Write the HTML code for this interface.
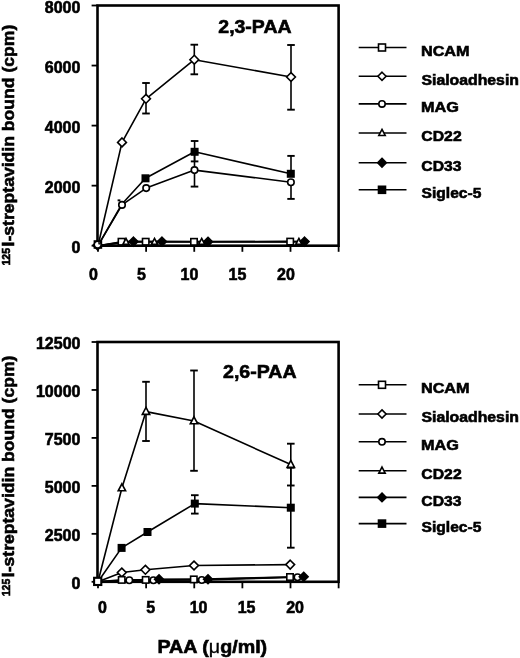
<!DOCTYPE html>
<html><head><meta charset="utf-8"><style>
html,body{margin:0;padding:0;background:#fff;width:520px;height:658px;overflow:hidden}
svg{display:block;will-change:transform}
text{font-family:"Liberation Sans",sans-serif;font-weight:bold;fill:#000;stroke:#000;stroke-width:0.6px}
</style></head><body>
<svg width="520" height="658" viewBox="0 0 520 658">
<rect x="97.5" y="5.5" width="241.10000000000002" height="240.2" fill="none" stroke="#000" stroke-width="2.6"/>
<line x1="91.6" y1="5.5" x2="97.5" y2="5.5" stroke="#000" stroke-width="1.8"/>
<line x1="91.6" y1="65.55" x2="97.5" y2="65.55" stroke="#000" stroke-width="1.8"/>
<line x1="91.6" y1="125.6" x2="97.5" y2="125.6" stroke="#000" stroke-width="1.8"/>
<line x1="91.6" y1="185.65" x2="97.5" y2="185.65" stroke="#000" stroke-width="1.8"/>
<line x1="91.6" y1="245.7" x2="97.5" y2="245.7" stroke="#000" stroke-width="1.8"/>
<line x1="98.00" y1="245.7" x2="98.00" y2="251.8" stroke="#000" stroke-width="1.8"/>
<line x1="146.12" y1="245.7" x2="146.12" y2="251.8" stroke="#000" stroke-width="1.8"/>
<line x1="194.25" y1="245.7" x2="194.25" y2="251.8" stroke="#000" stroke-width="1.8"/>
<line x1="242.38" y1="245.7" x2="242.38" y2="251.8" stroke="#000" stroke-width="1.8"/>
<line x1="290.50" y1="245.7" x2="290.50" y2="251.8" stroke="#000" stroke-width="1.8"/>
<line x1="338.62" y1="245.7" x2="338.62" y2="251.8" stroke="#000" stroke-width="1.8"/>
<text x="44.84" y="12.50" font-size="16" textLength="35.59" lengthAdjust="spacingAndGlyphs">8000</text>
<text x="44.84" y="72.55" font-size="16" textLength="35.59" lengthAdjust="spacingAndGlyphs">6000</text>
<text x="44.84" y="132.60" font-size="16" textLength="35.59" lengthAdjust="spacingAndGlyphs">4000</text>
<text x="44.84" y="192.65" font-size="16" textLength="35.59" lengthAdjust="spacingAndGlyphs">2000</text>
<text x="71.56" y="252.70" font-size="16" textLength="8.90" lengthAdjust="spacingAndGlyphs">0</text>
<text x="88.96" y="279.60" font-size="16" textLength="8.90" lengthAdjust="spacingAndGlyphs">0</text>
<text x="137.05" y="279.60" font-size="16" textLength="8.90" lengthAdjust="spacingAndGlyphs">5</text>
<text x="180.57" y="279.60" font-size="16" textLength="17.80" lengthAdjust="spacingAndGlyphs">10</text>
<text x="228.58" y="279.60" font-size="16" textLength="17.80" lengthAdjust="spacingAndGlyphs">15</text>
<text x="277.06" y="279.60" font-size="16" textLength="17.80" lengthAdjust="spacingAndGlyphs">20</text>
<text x="218.32" y="32.50" font-size="17.5" textLength="73.18" lengthAdjust="spacingAndGlyphs">2,3-PAA</text>
<line x1="146.00" y1="83.00" x2="146.00" y2="113.50" stroke="#000" stroke-width="1.6"/>
<line x1="142.20" y1="83.00" x2="149.80" y2="83.00" stroke="#000" stroke-width="1.9"/>
<line x1="142.20" y1="113.50" x2="149.80" y2="113.50" stroke="#000" stroke-width="1.9"/>
<line x1="194.30" y1="44.70" x2="194.30" y2="74.30" stroke="#000" stroke-width="1.6"/>
<line x1="190.50" y1="44.70" x2="198.10" y2="44.70" stroke="#000" stroke-width="1.9"/>
<line x1="190.50" y1="74.30" x2="198.10" y2="74.30" stroke="#000" stroke-width="1.9"/>
<line x1="291.00" y1="45.00" x2="291.00" y2="109.70" stroke="#000" stroke-width="1.6"/>
<line x1="287.20" y1="45.00" x2="294.80" y2="45.00" stroke="#000" stroke-width="1.9"/>
<line x1="287.20" y1="109.70" x2="294.80" y2="109.70" stroke="#000" stroke-width="1.9"/>
<line x1="194.60" y1="141.00" x2="194.60" y2="161.40" stroke="#000" stroke-width="1.6"/>
<line x1="190.80" y1="141.00" x2="198.40" y2="141.00" stroke="#000" stroke-width="1.9"/>
<line x1="190.80" y1="161.40" x2="198.40" y2="161.40" stroke="#000" stroke-width="1.9"/>
<line x1="194.50" y1="153.50" x2="194.50" y2="186.60" stroke="#000" stroke-width="1.6"/>
<line x1="190.70" y1="153.50" x2="198.30" y2="153.50" stroke="#000" stroke-width="1.9"/>
<line x1="190.70" y1="186.60" x2="198.30" y2="186.60" stroke="#000" stroke-width="1.9"/>
<line x1="291.00" y1="173.90" x2="291.00" y2="155.90" stroke="#000" stroke-width="1.6"/>
<line x1="287.30" y1="155.90" x2="294.70" y2="155.90" stroke="#000" stroke-width="1.9"/>
<line x1="291.00" y1="182.20" x2="291.00" y2="198.90" stroke="#000" stroke-width="1.6"/>
<line x1="287.30" y1="198.90" x2="294.70" y2="198.90" stroke="#000" stroke-width="1.9"/>
<rect x="117.6" y="199.4" width="2.8" height="1.9" fill="#000"/>
<polyline points="98.00,245.70 121.50,241.70 145.70,241.70 194.00,241.80 290.20,241.60" fill="none" stroke="#000" stroke-width="1.6" stroke-linejoin="round"/>
<polyline points="98.00,245.70 126.00,241.60 154.50,241.60 201.70,241.60 298.90,241.60" fill="none" stroke="#000" stroke-width="1.6" stroke-linejoin="round"/>
<polyline points="98.00,245.70 133.50,241.60 162.00,241.60 208.00,241.80 304.60,241.60" fill="none" stroke="#000" stroke-width="1.6" stroke-linejoin="round"/>
<polyline points="98.00,245.70 122.00,204.90 146.20,188.10 194.50,170.10 290.90,182.20" fill="none" stroke="#000" stroke-width="1.6" stroke-linejoin="round"/>
<polyline points="98.00,245.70 122.00,204.00 145.50,178.30 194.60,151.80 290.80,173.80" fill="none" stroke="#000" stroke-width="1.6" stroke-linejoin="round"/>
<polyline points="98.00,245.70 122.00,142.40 146.00,98.80 194.30,59.70 291.00,77.00" fill="none" stroke="#000" stroke-width="1.6" stroke-linejoin="round"/>
<rect x="118.30" y="238.50" width="6.4" height="6.4" fill="#fff" stroke="#000" stroke-width="1.6"/>
<rect x="142.50" y="238.50" width="6.4" height="6.4" fill="#fff" stroke="#000" stroke-width="1.6"/>
<rect x="190.80" y="238.60" width="6.4" height="6.4" fill="#fff" stroke="#000" stroke-width="1.6"/>
<rect x="287.00" y="238.40" width="6.4" height="6.4" fill="#fff" stroke="#000" stroke-width="1.6"/>
<path d="M126.00 238.37L129.10 244.26L122.90 244.26Z" fill="#fff" stroke="#000" stroke-width="1.6" stroke-linejoin="miter"/>
<path d="M154.50 238.37L157.60 244.26L151.40 244.26Z" fill="#fff" stroke="#000" stroke-width="1.6" stroke-linejoin="miter"/>
<path d="M201.70 238.37L204.80 244.26L198.60 244.26Z" fill="#fff" stroke="#000" stroke-width="1.6" stroke-linejoin="miter"/>
<path d="M298.90 238.37L302.00 244.26L295.80 244.26Z" fill="#fff" stroke="#000" stroke-width="1.6" stroke-linejoin="miter"/>
<path d="M133.50 237.20L137.90 241.60L133.50 246.00L129.10 241.60Z" fill="#000" stroke="#000" stroke-width="1.6" stroke-linejoin="miter"/>
<path d="M162.00 237.20L166.40 241.60L162.00 246.00L157.60 241.60Z" fill="#000" stroke="#000" stroke-width="1.6" stroke-linejoin="miter"/>
<path d="M208.00 237.40L212.40 241.80L208.00 246.20L203.60 241.80Z" fill="#000" stroke="#000" stroke-width="1.6" stroke-linejoin="miter"/>
<path d="M304.60 237.20L309.00 241.60L304.60 246.00L300.20 241.60Z" fill="#000" stroke="#000" stroke-width="1.6" stroke-linejoin="miter"/>
<rect x="142.30" y="175.10" width="6.4" height="6.4" fill="#000" stroke="#000" stroke-width="1.6"/>
<rect x="191.40" y="148.60" width="6.4" height="6.4" fill="#000" stroke="#000" stroke-width="1.6"/>
<rect x="287.60" y="170.60" width="6.4" height="6.4" fill="#000" stroke="#000" stroke-width="1.6"/>
<circle cx="122.00" cy="204.90" r="3.25" fill="#fff" stroke="#000" stroke-width="1.6"/>
<circle cx="146.20" cy="188.10" r="3.25" fill="#fff" stroke="#000" stroke-width="1.6"/>
<circle cx="194.50" cy="170.10" r="3.25" fill="#fff" stroke="#000" stroke-width="1.6"/>
<circle cx="290.90" cy="182.20" r="3.25" fill="#fff" stroke="#000" stroke-width="1.6"/>
<path d="M122.00 138.00L126.40 142.40L122.00 146.80L117.60 142.40Z" fill="#fff" stroke="#000" stroke-width="1.6" stroke-linejoin="miter"/>
<path d="M146.00 94.40L150.40 98.80L146.00 103.20L141.60 98.80Z" fill="#fff" stroke="#000" stroke-width="1.6" stroke-linejoin="miter"/>
<path d="M194.30 55.30L198.70 59.70L194.30 64.10L189.90 59.70Z" fill="#fff" stroke="#000" stroke-width="1.6" stroke-linejoin="miter"/>
<path d="M291.00 72.60L295.40 77.00L291.00 81.40L286.60 77.00Z" fill="#fff" stroke="#000" stroke-width="1.6" stroke-linejoin="miter"/>
<path d="M97.60 240.60L102.20 245.20L97.60 249.80L93.00 245.20Z" fill="#000" stroke="#000" stroke-width="1.6" stroke-linejoin="miter"/>
<rect x="93.6" y="240.2" width="8.6" height="8.6" fill="#000"/>
<circle cx="97.7" cy="244.6" r="2.6" fill="#fff"/>
<path d="M97.9 242.1 A2.6 2.6 0 0 1 100.3 244.6 L98.6 244.6 Z" fill="#000"/>
<line x1="358.7" y1="47.5" x2="406.5" y2="47.5" stroke="#000" stroke-width="1.6"/>
<rect x="378.50" y="44.00" width="7.0" height="7.0" fill="#fff" stroke="#000" stroke-width="1.6"/>
<text x="420.95" y="55.70" font-size="15" textLength="48.68" lengthAdjust="spacingAndGlyphs">NCAM</text>
<line x1="358.7" y1="76.3" x2="406.5" y2="76.3" stroke="#000" stroke-width="1.6"/>
<path d="M382.00 72.20L386.10 76.30L382.00 80.40L377.90 76.30Z" fill="#fff" stroke="#000" stroke-width="1.6" stroke-linejoin="miter"/>
<text x="421.53" y="84.50" font-size="15" textLength="97.40" lengthAdjust="spacingAndGlyphs">Sialoadhesin</text>
<line x1="358.7" y1="103.9" x2="406.5" y2="103.9" stroke="#000" stroke-width="1.6"/>
<circle cx="382.00" cy="103.90" r="3.2" fill="#fff" stroke="#000" stroke-width="1.6"/>
<text x="420.94" y="112.10" font-size="15" textLength="37.88" lengthAdjust="spacingAndGlyphs">MAG</text>
<line x1="358.7" y1="133" x2="406.5" y2="133" stroke="#000" stroke-width="1.6"/>
<path d="M382.00 129.35L385.20 135.43L378.80 135.43Z" fill="#fff" stroke="#000" stroke-width="1.6" stroke-linejoin="miter"/>
<text x="421.37" y="141.20" font-size="15" textLength="40.29" lengthAdjust="spacingAndGlyphs">CD22</text>
<line x1="358.7" y1="162.7" x2="406.5" y2="162.7" stroke="#000" stroke-width="1.6"/>
<path d="M382.00 158.40L386.30 162.70L382.00 167.00L377.70 162.70Z" fill="#000" stroke="#000" stroke-width="1.6" stroke-linejoin="miter"/>
<text x="421.37" y="170.90" font-size="15" textLength="40.21" lengthAdjust="spacingAndGlyphs">CD33</text>
<line x1="358.7" y1="189.8" x2="406.5" y2="189.8" stroke="#000" stroke-width="1.6"/>
<rect x="378.50" y="186.30" width="7.0" height="7.0" fill="#000" stroke="#000" stroke-width="1.6"/>
<text x="421.53" y="198.00" font-size="15" textLength="59.86" lengthAdjust="spacingAndGlyphs">Siglec-5</text>
<g transform="translate(0,0)">
<g transform="rotate(-90)"><text x="-265.48" y="10.30" font-size="10.8" textLength="17.48" lengthAdjust="spacingAndGlyphs">125</text></g>
<g transform="rotate(-90)"><text x="-246.44" y="14.20" font-size="17" textLength="221.75" lengthAdjust="spacingAndGlyphs">I-streptavidin bound (cpm)</text></g>
</g>
<rect x="97.5" y="342" width="241.10000000000002" height="239.79999999999995" fill="none" stroke="#000" stroke-width="2.6"/>
<line x1="91.6" y1="342" x2="97.5" y2="342" stroke="#000" stroke-width="1.8"/>
<line x1="91.6" y1="389.96" x2="97.5" y2="389.96" stroke="#000" stroke-width="1.8"/>
<line x1="91.6" y1="437.92" x2="97.5" y2="437.92" stroke="#000" stroke-width="1.8"/>
<line x1="91.6" y1="485.88" x2="97.5" y2="485.88" stroke="#000" stroke-width="1.8"/>
<line x1="91.6" y1="533.84" x2="97.5" y2="533.84" stroke="#000" stroke-width="1.8"/>
<line x1="91.6" y1="581.8" x2="97.5" y2="581.8" stroke="#000" stroke-width="1.8"/>
<line x1="98.00" y1="581.8" x2="98.00" y2="588.3" stroke="#000" stroke-width="1.8"/>
<line x1="146.12" y1="581.8" x2="146.12" y2="588.3" stroke="#000" stroke-width="1.8"/>
<line x1="194.25" y1="581.8" x2="194.25" y2="588.3" stroke="#000" stroke-width="1.8"/>
<line x1="242.38" y1="581.8" x2="242.38" y2="588.3" stroke="#000" stroke-width="1.8"/>
<line x1="290.50" y1="581.8" x2="290.50" y2="588.3" stroke="#000" stroke-width="1.8"/>
<line x1="338.62" y1="581.8" x2="338.62" y2="588.3" stroke="#000" stroke-width="1.8"/>
<text x="35.96" y="349.00" font-size="16" textLength="44.49" lengthAdjust="spacingAndGlyphs">12500</text>
<text x="35.96" y="396.96" font-size="16" textLength="44.49" lengthAdjust="spacingAndGlyphs">10000</text>
<text x="44.84" y="444.92" font-size="16" textLength="35.59" lengthAdjust="spacingAndGlyphs">7500</text>
<text x="44.84" y="492.88" font-size="16" textLength="35.59" lengthAdjust="spacingAndGlyphs">5000</text>
<text x="44.84" y="540.84" font-size="16" textLength="35.59" lengthAdjust="spacingAndGlyphs">2500</text>
<text x="71.56" y="588.80" font-size="16" textLength="8.90" lengthAdjust="spacingAndGlyphs">0</text>
<text x="98.06" y="612.50" font-size="16" textLength="8.90" lengthAdjust="spacingAndGlyphs">0</text>
<text x="146.15" y="612.50" font-size="16" textLength="8.90" lengthAdjust="spacingAndGlyphs">5</text>
<text x="189.67" y="612.50" font-size="16" textLength="17.80" lengthAdjust="spacingAndGlyphs">10</text>
<text x="237.68" y="612.50" font-size="16" textLength="17.80" lengthAdjust="spacingAndGlyphs">15</text>
<text x="286.16" y="612.50" font-size="16" textLength="17.80" lengthAdjust="spacingAndGlyphs">20</text>
<text x="223.02" y="378.40" font-size="17.5" textLength="73.48" lengthAdjust="spacingAndGlyphs">2,6-PAA</text>
<line x1="146.00" y1="381.80" x2="146.00" y2="441.00" stroke="#000" stroke-width="1.6"/>
<line x1="142.20" y1="381.80" x2="149.80" y2="381.80" stroke="#000" stroke-width="1.9"/>
<line x1="142.20" y1="441.00" x2="149.80" y2="441.00" stroke="#000" stroke-width="1.9"/>
<line x1="194.00" y1="370.50" x2="194.00" y2="470.80" stroke="#000" stroke-width="1.6"/>
<line x1="190.20" y1="370.50" x2="197.80" y2="370.50" stroke="#000" stroke-width="1.9"/>
<line x1="190.20" y1="470.80" x2="197.80" y2="470.80" stroke="#000" stroke-width="1.9"/>
<line x1="290.80" y1="443.70" x2="290.80" y2="485.50" stroke="#000" stroke-width="1.6"/>
<line x1="287.00" y1="443.70" x2="294.60" y2="443.70" stroke="#000" stroke-width="1.9"/>
<line x1="287.00" y1="485.50" x2="294.60" y2="485.50" stroke="#000" stroke-width="1.9"/>
<line x1="194.80" y1="495.20" x2="194.80" y2="513.60" stroke="#000" stroke-width="1.6"/>
<line x1="191.00" y1="495.20" x2="198.60" y2="495.20" stroke="#000" stroke-width="1.9"/>
<line x1="191.00" y1="513.60" x2="198.60" y2="513.60" stroke="#000" stroke-width="1.9"/>
<line x1="290.80" y1="467.70" x2="290.80" y2="547.70" stroke="#000" stroke-width="1.6"/>
<line x1="287.00" y1="467.70" x2="294.60" y2="467.70" stroke="#000" stroke-width="1.9"/>
<line x1="287.00" y1="547.70" x2="294.60" y2="547.70" stroke="#000" stroke-width="1.9"/>
<polyline points="98.00,581.80 121.70,579.90 145.70,579.90 193.80,579.40 290.00,577.00" fill="none" stroke="#000" stroke-width="1.6" stroke-linejoin="round"/>
<polyline points="98.00,581.80 134.00,581.00 159.00,579.30 208.00,579.20 303.70,576.80" fill="none" stroke="#000" stroke-width="1.6" stroke-linejoin="round"/>
<polyline points="98.00,581.80 129.30,580.20 153.40,580.30 201.80,580.00 297.50,577.30" fill="none" stroke="#000" stroke-width="1.6" stroke-linejoin="round"/>
<polyline points="98.00,581.80 121.80,572.50 145.40,569.80 194.00,565.50 290.20,564.60" fill="none" stroke="#000" stroke-width="1.6" stroke-linejoin="round"/>
<polyline points="98.00,581.80 121.60,547.90 147.50,532.00 194.80,503.60 290.80,507.70" fill="none" stroke="#000" stroke-width="1.6" stroke-linejoin="round"/>
<polyline points="98.00,581.80 121.90,488.00 146.00,411.60 194.00,421.00 290.80,464.60" fill="none" stroke="#000" stroke-width="1.6" stroke-linejoin="round"/>
<path d="M121.80 568.10L126.20 572.50L121.80 576.90L117.40 572.50Z" fill="#fff" stroke="#000" stroke-width="1.6" stroke-linejoin="miter"/>
<path d="M145.40 565.40L149.80 569.80L145.40 574.20L141.00 569.80Z" fill="#fff" stroke="#000" stroke-width="1.6" stroke-linejoin="miter"/>
<path d="M194.00 561.10L198.40 565.50L194.00 569.90L189.60 565.50Z" fill="#fff" stroke="#000" stroke-width="1.6" stroke-linejoin="miter"/>
<path d="M290.20 560.20L294.60 564.60L290.20 569.00L285.80 564.60Z" fill="#fff" stroke="#000" stroke-width="1.6" stroke-linejoin="miter"/>
<rect x="118.50" y="576.70" width="6.4" height="6.4" fill="#fff" stroke="#000" stroke-width="1.6"/>
<rect x="142.50" y="576.70" width="6.4" height="6.4" fill="#fff" stroke="#000" stroke-width="1.6"/>
<rect x="190.60" y="576.20" width="6.4" height="6.4" fill="#fff" stroke="#000" stroke-width="1.6"/>
<rect x="286.80" y="573.80" width="6.4" height="6.4" fill="#fff" stroke="#000" stroke-width="1.6"/>
<circle cx="129.30" cy="580.20" r="3.25" fill="#fff" stroke="#000" stroke-width="1.6"/>
<circle cx="153.40" cy="580.30" r="3.25" fill="#fff" stroke="#000" stroke-width="1.6"/>
<circle cx="201.80" cy="580.00" r="3.25" fill="#fff" stroke="#000" stroke-width="1.6"/>
<circle cx="297.50" cy="577.30" r="3.25" fill="#fff" stroke="#000" stroke-width="1.6"/>
<path d="M159.00 574.90L163.40 579.30L159.00 583.70L154.60 579.30Z" fill="#000" stroke="#000" stroke-width="1.6" stroke-linejoin="miter"/>
<path d="M208.00 574.80L212.40 579.20L208.00 583.60L203.60 579.20Z" fill="#000" stroke="#000" stroke-width="1.6" stroke-linejoin="miter"/>
<path d="M303.70 572.40L308.10 576.80L303.70 581.20L299.30 576.80Z" fill="#000" stroke="#000" stroke-width="1.6" stroke-linejoin="miter"/>
<rect x="118.40" y="544.70" width="6.4" height="6.4" fill="#000" stroke="#000" stroke-width="1.6"/>
<rect x="144.30" y="528.80" width="6.4" height="6.4" fill="#000" stroke="#000" stroke-width="1.6"/>
<rect x="191.60" y="500.40" width="6.4" height="6.4" fill="#000" stroke="#000" stroke-width="1.6"/>
<rect x="287.60" y="504.50" width="6.4" height="6.4" fill="#000" stroke="#000" stroke-width="1.6"/>
<path d="M121.90 483.78L125.60 490.81L118.20 490.81Z" fill="#fff" stroke="#000" stroke-width="1.6" stroke-linejoin="miter"/>
<path d="M146.00 407.38L149.70 414.41L142.30 414.41Z" fill="#fff" stroke="#000" stroke-width="1.6" stroke-linejoin="miter"/>
<path d="M194.00 416.78L197.70 423.81L190.30 423.81Z" fill="#fff" stroke="#000" stroke-width="1.6" stroke-linejoin="miter"/>
<path d="M290.80 460.38L294.50 467.41L287.10 467.41Z" fill="#fff" stroke="#000" stroke-width="1.6" stroke-linejoin="miter"/>
<rect x="94.1" y="577.8" width="7.2" height="7.2" fill="#fff" stroke="#000" stroke-width="2.1"/>
<line x1="358.7" y1="384.8" x2="406.5" y2="384.8" stroke="#000" stroke-width="1.6"/>
<rect x="378.50" y="381.30" width="7.0" height="7.0" fill="#fff" stroke="#000" stroke-width="1.6"/>
<text x="420.95" y="393.00" font-size="15" textLength="48.68" lengthAdjust="spacingAndGlyphs">NCAM</text>
<line x1="358.7" y1="414" x2="406.5" y2="414" stroke="#000" stroke-width="1.6"/>
<path d="M382.00 409.90L386.10 414.00L382.00 418.10L377.90 414.00Z" fill="#fff" stroke="#000" stroke-width="1.6" stroke-linejoin="miter"/>
<text x="421.53" y="422.20" font-size="15" textLength="97.40" lengthAdjust="spacingAndGlyphs">Sialoadhesin</text>
<line x1="358.7" y1="441.8" x2="406.5" y2="441.8" stroke="#000" stroke-width="1.6"/>
<circle cx="382.00" cy="441.80" r="3.2" fill="#fff" stroke="#000" stroke-width="1.6"/>
<text x="420.94" y="450.00" font-size="15" textLength="37.88" lengthAdjust="spacingAndGlyphs">MAG</text>
<line x1="358.7" y1="470.7" x2="406.5" y2="470.7" stroke="#000" stroke-width="1.6"/>
<path d="M382.00 467.05L385.20 473.13L378.80 473.13Z" fill="#fff" stroke="#000" stroke-width="1.6" stroke-linejoin="miter"/>
<text x="421.37" y="478.90" font-size="15" textLength="40.29" lengthAdjust="spacingAndGlyphs">CD22</text>
<line x1="358.7" y1="497.4" x2="406.5" y2="497.4" stroke="#000" stroke-width="1.6"/>
<path d="M382.00 493.10L386.30 497.40L382.00 501.70L377.70 497.40Z" fill="#000" stroke="#000" stroke-width="1.6" stroke-linejoin="miter"/>
<text x="421.37" y="505.60" font-size="15" textLength="40.21" lengthAdjust="spacingAndGlyphs">CD33</text>
<line x1="358.7" y1="523.6" x2="406.5" y2="523.6" stroke="#000" stroke-width="1.6"/>
<rect x="378.50" y="520.10" width="7.0" height="7.0" fill="#000" stroke="#000" stroke-width="1.6"/>
<text x="421.53" y="531.80" font-size="15" textLength="59.86" lengthAdjust="spacingAndGlyphs">Siglec-5</text>
<g transform="translate(0,0)">
<g transform="rotate(-90)"><text x="-596.28" y="10.30" font-size="10.8" textLength="17.48" lengthAdjust="spacingAndGlyphs">125</text></g>
<g transform="rotate(-90)"><text x="-577.24" y="14.20" font-size="17" textLength="221.65" lengthAdjust="spacingAndGlyphs">I-streptavidin bound (cpm)</text></g>
</g>
<text x="157.48" y="652.50" font-size="17.5" textLength="109.68" lengthAdjust="spacingAndGlyphs">PAA (<tspan font-weight="normal" style="stroke-width:0.3px">μ</tspan>g/ml)</text>
</svg>
</body></html>
